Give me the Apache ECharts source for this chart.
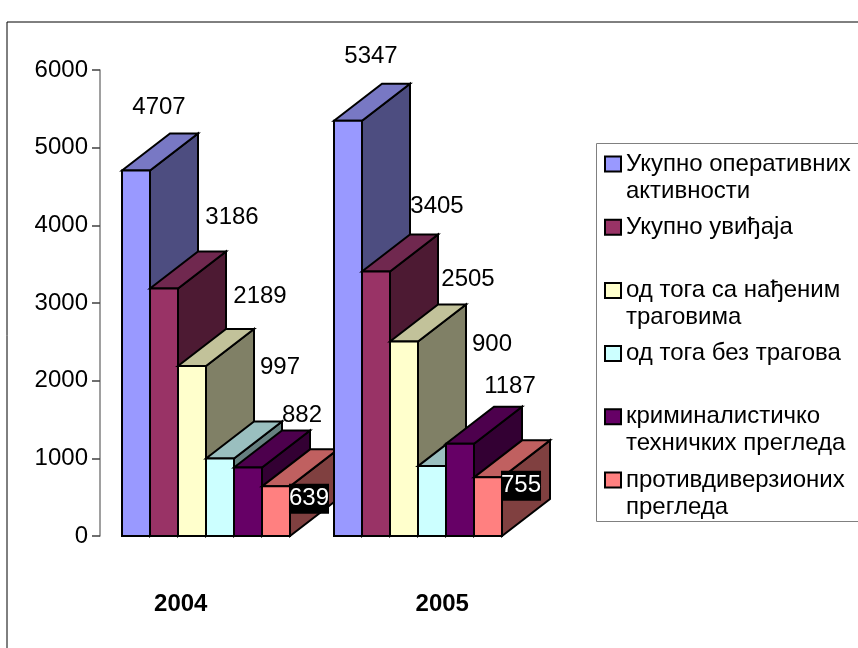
<!DOCTYPE html>
<html>
<head>
<meta charset="utf-8">
<style>html,body{margin:0;padding:0;background:#fff}#chart{width:858px;height:648px}</style>
<script src="https://cdn.jsdelivr.net/npm/echarts@6/dist/echarts.min.js"></script>
</head>
<body>
<div id="chart"></div>
<script>
const years = ['2004', '2005'];
const yTicks = { min: 0, max: 6000, interval: 1000 };

const seriesNames = [
  'Укупно оперативних\nактивности',
  'Укупно увиђаја',
  'од тога са нађеним\nтраговима',
  'од тога без трагова',
  'криминалистичко\nтехничких прегледа',
  'противдиверзионих\nпрегледа'
];
const totalOperations = [4707, 5347];
const totalInspections = [3186, 3405];
const withTraces = [2189, 2505];
const withoutTraces = [997, 900];
const forensicChecks = [882, 1187];
const antiSabotageChecks = [639, 755];
const seriesValues = [totalOperations, totalInspections, withTraces, withoutTraces, forensicChecks, antiSabotageChecks];

// front, top and side colours of each bar
const frontColors = ['#9999ff', '#993366', '#ffffcc', '#ccffff', '#660066', '#ff8080'];
const topColors = ['#7878c4', '#70284f', '#c2c29a', '#9abfbf', '#4d004d', '#c06060'];
const sideColors = ['#4d4d80', '#4d1a33', '#808066', '#668080', '#330033', '#804040'];

// label position relative to the front top left corner of the bar, per year
const labelOffsets = [
  [[37, -63.5], [37, -64.5]],
  [[82, -71.5], [75, -65.5]],
  [[82, -69.5], [78, -62.5]],
  [[74, -91.5], [74, -121.5]],
  [[68, -52.5], [64, -57.5]],
  [[47, 12.5], [47, 8.5]]
];

const barW = 28;
const depthX = 48;
const depthY = -37;
const outline = { stroke: '#000', lineWidth: 2, lineJoin: 'miter' };
const font = 'Liberation Sans, Arial, sans-serif';

function renderBar(s, params, api) {
  const i = api.value(0);
  const top = api.coord([i, api.value(1)]);
  const base = api.coord([i, 0]);
  const x = top[0] - 3 * barW + s * barW;
  const z = i * 10 + s;
  const poly = (pts, fill) => ({
    type: 'polygon', z2: z, shape: { points: pts }, style: Object.assign({ fill }, outline)
  });
  const off = labelOffsets[s][i];
  const dark = s === 5; // the last labels sit on a black box
  return {
    type: 'group',
    children: [
      poly([[x + barW, base[1]], [x + barW + depthX, base[1] + depthY], [x + barW + depthX, top[1] + depthY], [x + barW, top[1]]], sideColors[s]),
      poly([[x, top[1]], [x + depthX, top[1] + depthY], [x + barW + depthX, top[1] + depthY], [x + barW, top[1]]], topColors[s]),
      poly([[x, base[1]], [x, top[1]], [x + barW, top[1]], [x + barW, base[1]]], frontColors[s]),
      {
        type: 'text', z2: 1000,
        x: x + off[0], y: top[1] + off[1],
        style: {
          text: String(api.value(1)), font: '24px ' + font,
          fill: dark ? '#fff' : '#000', align: 'center', verticalAlign: 'middle',
          backgroundColor: dark ? '#000' : 'transparent', padding: dark ? [3, 0] : 0
        }
      }
    ]
  };
}

const chart = echarts.init(document.getElementById('chart'), null, { renderer: 'canvas' });
chart.setOption({
  animation: false,
  backgroundColor: '#fff',
  graphic: [
    { type: 'rect', z: 0, shape: { x: 7, y: 22, width: 860, height: 640 }, style: { fill: '#fff', stroke: '#000', lineWidth: 1 } },
    { type: 'rect', z: 0, shape: { x: 596.5, y: 143.5, width: 270, height: 378 }, style: { fill: '#fff', stroke: '#808080', lineWidth: 1 } }
  ],
  grid: [
    { left: 100, top: 70, width: 424, height: 466 },
    { left: 50, top: 70, width: 523, height: 466 }
  ],
  xAxis: [
    { type: 'category', gridIndex: 0, data: years, axisLine: { show: false }, axisTick: { show: false }, axisLabel: { show: false } },
    {
      type: 'category', gridIndex: 1, data: years, axisLine: { show: false }, axisTick: { show: false },
      axisLabel: { margin: 56, color: '#000', fontFamily: font, fontSize: 24, fontWeight: 'bold' }
    }
  ],
  yAxis: [
    {
      type: 'value', gridIndex: 0, min: yTicks.min, max: yTicks.max, interval: yTicks.interval,
      splitLine: { show: false },
      axisLine: { show: true, lineStyle: { color: '#808080', width: 1.5 } },
      axisTick: { show: true, length: 8, lineStyle: { color: '#404040', width: 1.5 } },
      axisLabel: { margin: 12, color: '#000', fontFamily: font, fontSize: 24, formatter: (v) => String(v) }
    },
    { type: 'value', gridIndex: 1, min: yTicks.min, max: yTicks.max, show: false }
  ],
  legend: {
    left: 604,
    top: 123.5,
    orient: 'vertical',
    align: 'left',
    padding: 0,
    itemGap: -17.8,
    icon: 'rect',
    itemWidth: 16,
    itemHeight: 15,
    selectedMode: false,
    itemStyle: { borderColor: '#000', borderWidth: 2 },
    textStyle: { color: '#000', fontFamily: font, fontSize: 24, lineHeight: 27 },
    // blank lines keep the swatch level with the first line of text
    formatter: (n) => '\n' + n + (n.indexOf('\n') < 0 ? '\n' : ''),
    data: seriesNames
  },
  series: seriesValues.map((vals, s) => ({
    type: 'custom',
    name: seriesNames[s],
    xAxisIndex: 0,
    yAxisIndex: 0,
    clip: false,
    itemStyle: { color: frontColors[s] },
    encode: { x: 0, y: 1 },
    data: vals.map((v, i) => [i, v]),
    renderItem: (params, api) => renderBar(s, params, api)
  }))
});
</script>
</body>
</html>
